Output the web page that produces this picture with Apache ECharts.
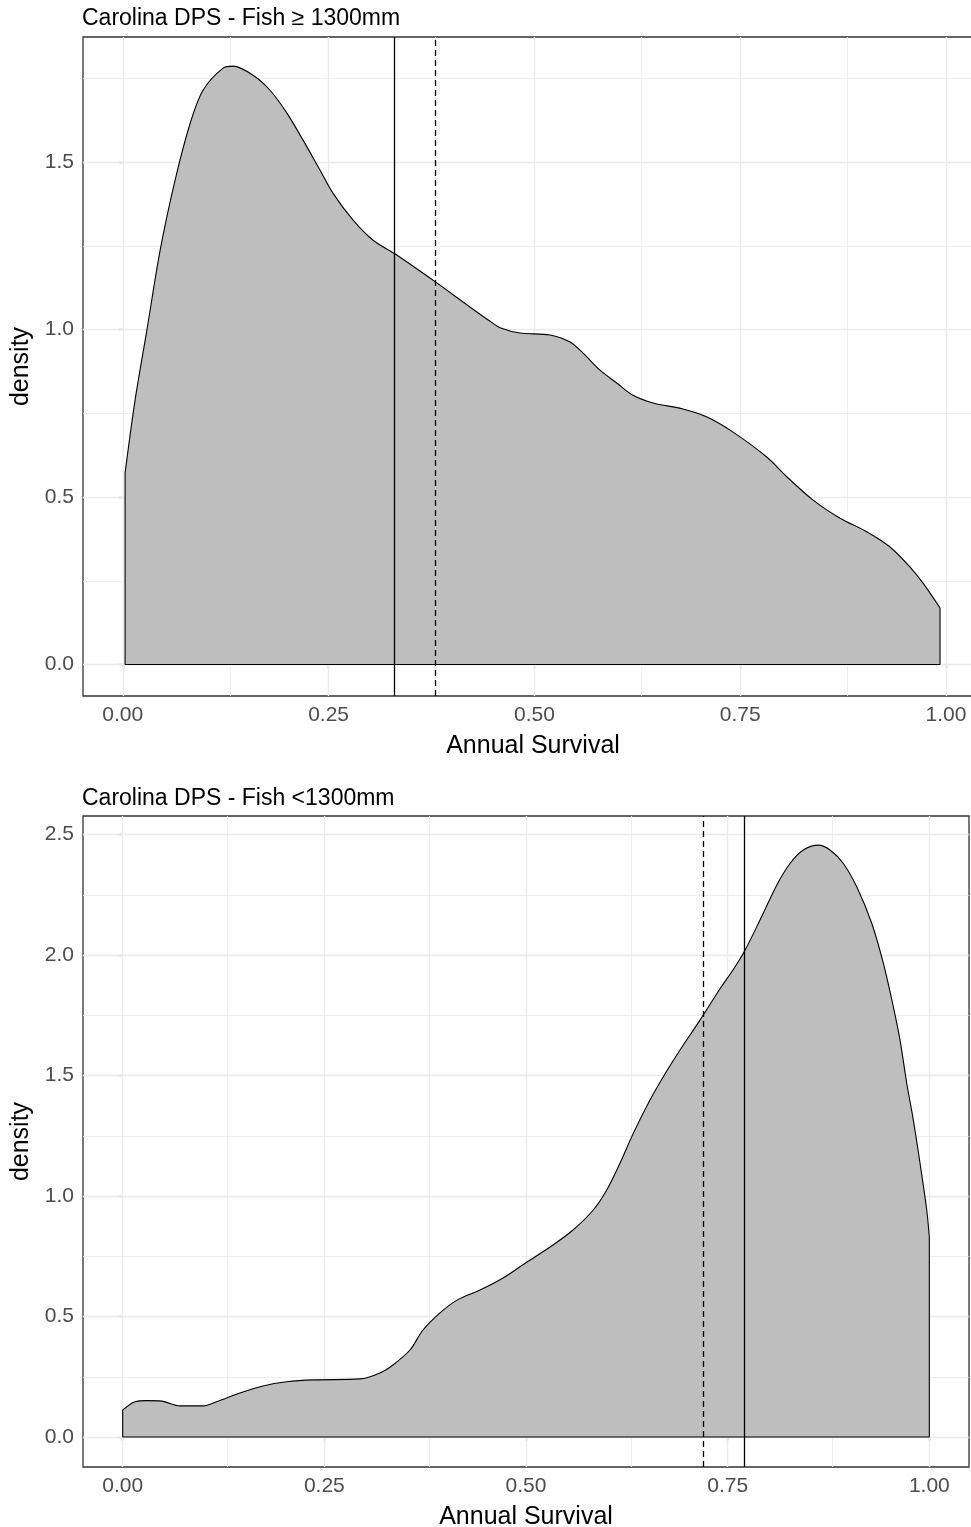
<!DOCTYPE html>
<html>
<head>
<meta charset="utf-8">
<script src="https://cdn.jsdelivr.net/npm/echarts@6/dist/echarts.min.js"></script>
<style>
  html, body { margin: 0; padding: 0; background: #fff; }
  #main { width: 971px; height: 1527px; }
</style>
</head>
<body>
<div id="main"></div>
<script>
// fish >= 1300mm : density of annual survival
const largeSurvival = [0.0028, 0.0149, 0.0292, 0.0453, 0.0635, 0.0817, 0.0975, 0.1218, 0.1340,
  0.1583, 0.1789, 0.1996, 0.2190, 0.2397, 0.2555, 0.2798, 0.3041, 0.3332, 0.3818,
  0.4182, 0.4462, 0.4583, 0.4826, 0.5190, 0.5433, 0.5591, 0.5797, 0.6004, 0.6198,
  0.6441, 0.6805, 0.7097, 0.7413, 0.7826, 0.8069, 0.8385, 0.8713, 0.9041, 0.9320,
  0.9563, 0.9721, 0.9927];
const largeDensity = [0.572, 0.789, 0.997, 1.236, 1.446, 1.615, 1.715, 1.781, 1.787,
  1.760, 1.715, 1.646, 1.566, 1.476, 1.407, 1.327, 1.267, 1.222, 1.139,
  1.074, 1.025, 1.006, 0.990, 0.984, 0.963, 0.930, 0.879, 0.840, 0.804,
  0.781, 0.763, 0.739, 0.694, 0.619, 0.560, 0.491, 0.437, 0.396, 0.351,
  0.291, 0.243, 0.169];
const largeSolid = 0.333;
const largeDashed = 0.383;

// fish < 1300mm
const smallSurvival = [0.0, 0.0152, 0.0298, 0.0484, 0.0710, 0.0996, 0.1165, 0.1454, 0.1739, 0.2033,
  0.2359, 0.2942, 0.3190, 0.3351, 0.3562, 0.3723, 0.3934, 0.4145, 0.4430, 0.4715,
  0.5012, 0.5335, 0.5583, 0.5834, 0.6001, 0.6165, 0.6330, 0.6537, 0.6702, 0.6909,
  0.7157, 0.7405, 0.7570, 0.7715, 0.7901, 0.8108, 0.8273, 0.8438, 0.8624, 0.8769,
  0.8934, 0.9100, 0.9286, 0.9430, 0.9554, 0.9637, 0.9720, 0.9802, 0.9885, 0.9968, 1.0];
const smallDensity = [0.112, 0.146, 0.151, 0.149, 0.129, 0.129, 0.146, 0.183, 0.212, 0.229,
  0.237, 0.241, 0.266, 0.299, 0.361, 0.444, 0.515, 0.568, 0.610, 0.660,
  0.726, 0.797, 0.859, 0.942, 1.025, 1.136, 1.260, 1.398, 1.495, 1.606,
  1.730, 1.860, 1.940, 2.020, 2.145, 2.290, 2.380, 2.436, 2.456, 2.436,
  2.380, 2.283, 2.132, 1.966, 1.785, 1.647, 1.468, 1.315, 1.136, 0.942, 0.83];
const smallSolid = 0.772;
const smallDashed = 0.718;

// ticks
const xTicks = [0, 0.25, 0.5, 0.75, 1];
const xMinor = [0.125, 0.375, 0.625, 0.875];
const largeYTicks = [0, 0.5, 1, 1.5];
const largeYMinor = [0.25, 0.75, 1.25, 1.75];
const smallYTicks = [0, 0.5, 1, 1.5, 2, 2.5];
const smallYMinor = [0.25, 0.75, 1.25, 1.75, 2.25];

const FONT = 'Liberation Sans, Arial, sans-serif';

const pairs = (xs, ys) => xs.map((x, i) => [x, ys[i]]);
// closing edges of the density polygon (ends + baseline)
const edges = (xs, ys) => {
  const n = xs.length - 1;
  return [[xs[0], ys[0]], [xs[0], 0], [xs[n], 0], [xs[n], ys[n]]];
};

function gridSeries(i, yMaj, yMin) {
  const st = w => ({ color: '#EBEBEB', width: w, type: 'solid' });
  return {
    type: 'line', xAxisIndex: i, yAxisIndex: i, data: [], z: 1, silent: true,
    markLine: {
      z: 1, silent: true, symbol: ['none', 'none'], label: { show: false }, animation: false,
      emphasis: { disabled: true },
      data: [].concat(
        xMinor.map(v => ({ xAxis: v, lineStyle: st(0.8) })),
        yMin.map(v => ({ yAxis: v, lineStyle: st(0.8) })),
        xTicks.map(v => ({ xAxis: v, lineStyle: st(1.4) })),
        yMaj.map(v => ({ yAxis: v, lineStyle: st(1.4) }))
      )
    }
  };
}

function densitySeries(i, xs, ys) {
  return [
    {
      type: 'line', xAxisIndex: i, yAxisIndex: i, z: 3,
      data: pairs(xs, ys), smooth: 0.3, symbol: 'none',
      lineStyle: { color: '#000', width: 1.1 },
      areaStyle: { color: '#BEBEBE', opacity: 1 }
    },
    {
      type: 'line', xAxisIndex: i, yAxisIndex: i, z: 4,
      data: edges(xs, ys), symbol: 'none',
      lineStyle: { color: '#000', width: 1.1 }
    }
  ];
}

function refLines(i, solid, dashed) {
  return {
    type: 'line', xAxisIndex: i, yAxisIndex: i, data: [], z: 6, silent: true,
    markLine: {
      z: 6, silent: true, symbol: ['none', 'none'], label: { show: false }, animation: false,
      data: [
        { xAxis: solid, lineStyle: { color: '#000', width: 1.3, type: 'solid' } },
        { xAxis: dashed, lineStyle: { color: '#000', width: 1.3, type: [6, 4] } }
      ]
    }
  };
}

function xAxisCfg(i, min, max) {
  return {
    type: 'value', gridIndex: i, min: min, max: max,
    name: 'Annual Survival', nameLocation: 'middle', nameGap: 38,
    nameTextStyle: { fontSize: 25, color: '#000', fontFamily: FONT },
    axisLine: { show: false },
    splitLine: { show: false },
    axisTick: { show: true, length: 4, customValues: xTicks, lineStyle: { color: '#333', width: 1.2 } },
    axisLabel: {
      customValues: xTicks, margin: 9, fontSize: 21, color: '#4D4D4D', fontFamily: FONT,
      formatter: v => v.toFixed(2)
    }
  };
}

function yAxisCfg(i, min, max, ticks) {
  return {
    type: 'value', gridIndex: i, min: min, max: max,
    name: 'density', nameLocation: 'middle', nameRotate: 90, nameGap: 48,
    nameTextStyle: { fontSize: 25, color: '#000', fontFamily: FONT },
    axisLine: { show: false },
    splitLine: { show: false },
    axisTick: { show: true, length: 4, customValues: ticks, lineStyle: { color: '#333', width: 1.2 } },
    axisLabel: {
      customValues: ticks, margin: 9, fontSize: 21, color: '#4D4D4D', fontFamily: FONT,
      formatter: v => v.toFixed(1)
    }
  };
}

const chart = echarts.init(document.getElementById('main'), null, { renderer: 'canvas' });

const option = {
  backgroundColor: '#fff',
  animation: false,
  title: [
    { text: 'Carolina DPS - Fish \u2265 1300mm', left: 82, top: 7, padding: 0,
      textStyle: { fontSize: 23, fontWeight: 'normal', color: '#000', fontFamily: FONT } },
    { text: 'Carolina DPS - Fish <1300mm', left: 82, top: 787, padding: 0,
      textStyle: { fontSize: 23, fontWeight: 'normal', color: '#000', fontFamily: FONT } }
  ],
  grid: [
    { left: 83, top: 37, width: 900, height: 659, outerBoundsMode: 'none', show: true, borderColor: '#333', borderWidth: 1.3, backgroundColor: 'transparent' },
    { left: 83, top: 816, width: 886, height: 651, outerBoundsMode: 'none', show: true, borderColor: '#333', borderWidth: 1.3, backgroundColor: 'transparent' }
  ],
  xAxis: [
    xAxisCfg(0, -0.0483, 1.0449),
    xAxisCfg(1, -0.0492, 1.0492)
  ],
  yAxis: [
    yAxisCfg(0, -0.094, 1.874, largeYTicks),
    yAxisCfg(1, -0.1245, 2.577, smallYTicks)
  ],
  series: [].concat(
    gridSeries(0, largeYTicks, largeYMinor),
    gridSeries(1, smallYTicks, smallYMinor),
    densitySeries(0, largeSurvival, largeDensity),
    densitySeries(1, smallSurvival, smallDensity),
    refLines(0, largeSolid, largeDashed),
    refLines(1, smallSolid, smallDashed)
  )
};

chart.setOption(option);
</script>
</body>
</html>
